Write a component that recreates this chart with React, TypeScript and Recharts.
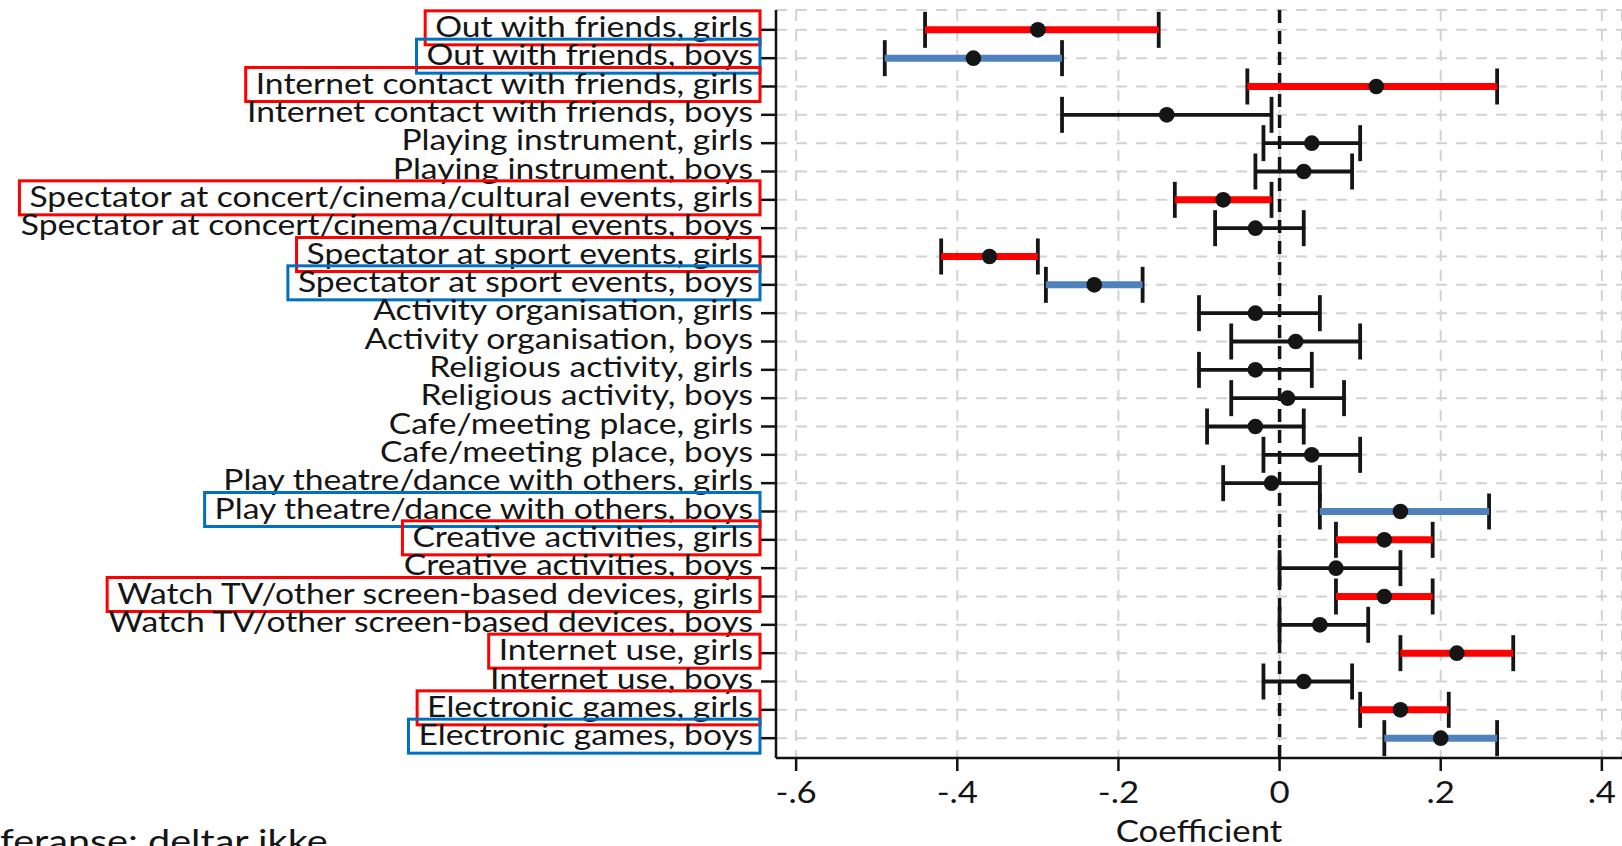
import { useLayoutEffect, useRef, useState } from "react";
import {
  ScatterChart,
  Scatter,
  XAxis,
  YAxis,
  CartesianGrid,
  ErrorBar,
  ReferenceLine,
} from "recharts";

const labels = [
  "Out with friends, girls",
  "Out with friends, boys",
  "Internet contact with friends, girls",
  "Internet contact with friends, boys",
  "Playing instrument, girls",
  "Playing instrument, boys",
  "Spectator at concert/cinema/cultural events, girls",
  "Spectator at concert/cinema/cultural events, boys",
  "Spectator at sport events, girls",
  "Spectator at sport events, boys",
  "Activity organisation, girls",
  "Activity organisation, boys",
  "Religious activity, girls",
  "Religious activity, boys",
  "Cafe/meeting place, girls",
  "Cafe/meeting place, boys",
  "Play theatre/dance with others, girls",
  "Play theatre/dance with others, boys",
  "Creative activities, girls",
  "Creative activities, boys",
  "Watch TV/other screen-based devices, girls",
  "Watch TV/other screen-based devices, boys",
  "Internet use, girls",
  "Internet use, boys",
  "Electronic games, girls",
  "Electronic games, boys",
];

const coef = [
  -0.3, -0.38, 0.12, -0.14, 0.04, 0.03, -0.07, -0.03, -0.36, -0.23, -0.03, 0.02, -0.03,
  0.01, -0.03, 0.04, -0.01, 0.15, 0.13, 0.07, 0.13, 0.05, 0.22, 0.03, 0.15, 0.2,
];
const lower = [
  -0.44, -0.49, -0.04, -0.27, -0.02, -0.03, -0.13, -0.08, -0.42, -0.29, -0.1, -0.06, -0.1,
  -0.06, -0.09, -0.02, -0.07, 0.05, 0.07, 0.0, 0.07, 0.0, 0.15, -0.02, 0.1, 0.13,
];
const upper = [
  -0.15, -0.27, 0.27, -0.01, 0.1, 0.09, -0.01, 0.03, -0.3, -0.17, 0.05, 0.1, 0.04, 0.08,
  0.03, 0.1, 0.05, 0.26, 0.19, 0.15, 0.19, 0.11, 0.29, 0.09, 0.21, 0.27,
];
// "red" = girls highlighted, "blue" = boys highlighted
const highlight = [
  "red", "blue", "red", "", "", "", "red", "", "red", "blue", "", "", "",
  "", "", "", "", "blue", "red", "", "red", "", "red", "", "red", "blue",
];

const xTicks = [-0.6, -0.4, -0.2, 0, 0.2, 0.4];
const rowTicks = labels.map((_, i) => i + 1);

const SX = 1.16;
const FONT = "Lato, 'Noto Sans', sans-serif";

const rows = labels.map((label, i) => ({
  row: i + 1,
  label,
  coef: coef[i],
  err: [coef[i] - lower[i], upper[i] - coef[i]],
}));
const redRows = rows.filter((_, i) => highlight[i] === "red");
const blueRows = rows.filter((_, i) => highlight[i] === "blue");

const fmtCoef = (v: number) =>
  v === 0 ? "0" : (v < 0 ? "-" : "") + Math.abs(v).toFixed(1).replace(/^0/, "");

function RowTick({ x, y, payload }: any) {
  const ref = useRef<SVGTextElement>(null);
  const [w, setW] = useState(0);
  const i = payload.value - 1;
  const mark = highlight[i];
  useLayoutEffect(() => {
    if (ref.current) setW(ref.current.getBBox().width * SX);
  }, [i]);
  return (
    <g>
      <g transform={`translate(${x},${y + 7}) scale(${SX},1)`}>
        <text ref={ref} x={0} y={0} textAnchor="end" fontFamily={FONT} fontSize={29} fill="#151515">
          {labels[i]}
        </text>
      </g>
      {mark && w > 0 && (
        <rect
          x={x - w - 10}
          y={y - 19}
          width={w + 17}
          height={34}
          fill="none"
          stroke={mark === "red" ? "#ff0000" : "#0070c0"}
          strokeWidth={3}
        />
      )}
    </g>
  );
}

function CoefTick({ x, y, payload }: any) {
  return (
    <g transform={`translate(${x},${y + 30}) scale(${SX},1)`}>
      <text x={0} y={0} textAnchor="middle" fontFamily={FONT} fontSize={30} fill="#151515">
        {fmtCoef(payload.value)}
      </text>
    </g>
  );
}

function AxisTitle({ viewBox }: any) {
  const cx = viewBox.x + viewBox.width / 2;
  return (
    <g transform={`translate(${cx},${viewBox.y + 84}) scale(${SX},1)`}>
      <text x={0} y={0} textAnchor="middle" fontFamily={FONT} fontSize={30} fill="#151515">
        Coefficient
      </text>
    </g>
  );
}

const noShape = () => <g />;

export default function App() {
  return (
    <div style={{ position: "absolute", left: 0, top: 0, width: 1622, height: 846, background: "#fff", overflow: "hidden" }}>
      <ScatterChart width={1622} height={846} margin={{ top: 10, right: 0, bottom: 0, left: 0 }}>
        <CartesianGrid stroke="#d2d2d2" strokeDasharray="11 9" strokeWidth={2} />
        <XAxis
          type="number"
          dataKey="coef"
          domain={[-0.625, 0.425]}
          ticks={xTicks}
          allowDataOverflow
          height={88}
          tickSize={13}
          tickMargin={2}
          axisLine={{ stroke: "#111", strokeWidth: 2.5 }}
          tickLine={{ stroke: "#111", strokeWidth: 2.5 }}
          tick={(p: any) => <CoefTick {...p} />}
          label={{ content: (p: any) => <AxisTitle {...p} /> }}
        />
        <YAxis
          type="number"
          dataKey="row"
          domain={[0.3, 26.7]}
          reversed
          ticks={rowTicks}
          interval={0}
          allowDataOverflow
          width={776}
          tickSize={15}
          tickMargin={8}
          axisLine={{ stroke: "#111", strokeWidth: 2.5 }}
          tickLine={{ stroke: "#111", strokeWidth: 2.5 }}
          tick={(p: any) => <RowTick {...p} />}
        />
        <ReferenceLine x={0} stroke="#111" strokeWidth={3.5} strokeDasharray="13 8" />
        <Scatter data={rows} shape={noShape} isAnimationActive={false}>
          <ErrorBar dataKey="err" direction="x" width={18} stroke="#151515" strokeWidth={3.8} isAnimationActive={false} />
        </Scatter>
        <Scatter data={redRows} shape={noShape} isAnimationActive={false}>
          <ErrorBar dataKey="err" direction="x" width={0} stroke="#ff0000" strokeWidth={7} isAnimationActive={false} />
        </Scatter>
        <Scatter data={blueRows} shape={noShape} isAnimationActive={false}>
          <ErrorBar dataKey="err" direction="x" width={0} stroke="#4f81bd" strokeWidth={7} isAnimationActive={false} />
        </Scatter>
        <Scatter
          data={rows}
          isAnimationActive={false}
          shape={(p: any) => <ellipse cx={p.cx} cy={p.cy} rx={7.8} ry={7.8} fill="#151515" />}
        />
      </ScatterChart>
      <svg width={1622} height={846} style={{ position: "absolute", left: 0, top: 0, pointerEvents: "none" }}>
        <g transform={`translate(0,853) scale(1.2,1)`}>
          <text x={0} y={0} fontFamily={FONT} fontSize={33} fill="#151515">
            feranse: deltar ikke
          </text>
        </g>
      </svg>
    </div>
  );
}
